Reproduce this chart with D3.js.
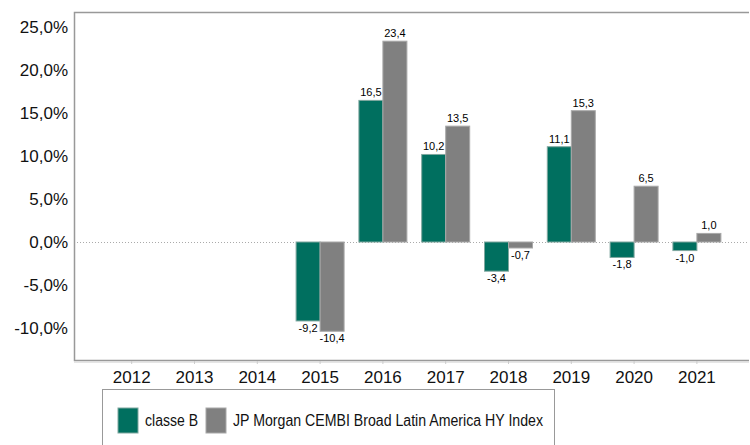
<!DOCTYPE html>
<html>
<head>
<meta charset="utf-8">
<script src="https://cdn.jsdelivr.net/npm/d3@7"></script>
<style>
  html, body { margin: 0; padding: 0; background: #fff; }
  svg { display: block; font-family: "Liberation Sans", Arial, sans-serif; }
</style>
</head>
<body>
<svg id="chart" width="750" height="445"></svg>
<script>
const years = ["2012","2013","2014","2015","2016","2017","2018","2019","2020","2021"];
const classeB = [null, null, null, -9.2, 16.5, 10.2, -3.4, 11.1, -1.8, -1.0];
const indexJP = [null, null, null, -10.4, 23.4, 13.5, -0.7, 15.3, 6.5, 1.0];
const seriesNames = ["classe B", "JP Morgan CEMBI Broad Latin America HY Index"];
const seriesColors = ["#006F5F", "#808080"];
const yTicks = [-10, -5, 0, 5, 10, 15, 20, 25];

const svg = d3.select("#chart");
const plot = { left: 74, right: 749, top: 12, bottom: 360 };

const y = d3.scaleLinear().domain([-13.75, 26.8]).range([plot.bottom, plot.top]);
const x = d3.scaleBand().domain(years).range([100.3, 728.3]).paddingInner(0).paddingOuter(0);
const sub = d3.scaleBand().domain([0, 1]).range([x.bandwidth() / 2 - 24, x.bandwidth() / 2 + 24]);

const fmt = v => d3.format(".1f")(v).replace(".", ",").replace("−", "-");

// zero line (dotted)
svg.append("line")
  .attr("x1", plot.left).attr("x2", plot.right)
  .attr("y1", Math.round(y(0)) + 0.5).attr("y2", Math.round(y(0)) + 0.5)
  .attr("stroke", "#aaa").attr("stroke-width", 1).attr("stroke-dasharray", "1,2");

// bars
const data = [classeB, indexJP];
data.forEach((vals, si) => {
  const g = svg.append("g");
  years.forEach((yr, i) => {
    const v = vals[i];
    if (v === null) return;
    const x0 = x(yr) + sub(si);
    const y0 = y(Math.max(0, v)), y1 = y(Math.min(0, v));
    g.append("rect")
      .attr("x", x0).attr("y", y0)
      .attr("width", sub.bandwidth()).attr("height", y1 - y0)
      .attr("fill", seriesColors[si])
      .attr("stroke", si === 0 ? "#7fa79f" : "#a8a8a8").attr("stroke-width", 1);
    const lx = x0 + sub.bandwidth() / 2;
    const ly = v >= 0 ? y(v) - 4 : y(v) + 11;
    g.append("text")
      .attr("x", lx).attr("y", ly)
      .attr("text-anchor", "middle")
      .attr("font-size", 11).attr("fill", "#000")
      .text(fmt(v));
  });
});

// frame
const frame = svg.append("g").attr("fill", "none");
frame.append("path")
  .attr("d", `M${plot.right},${plot.top + 0.5} H${plot.left + 0.5} V${plot.bottom + 0.5} H${plot.right}`)
  .attr("stroke", "#999").attr("stroke-width", 1.5);
frame.append("line")
  .attr("x1", plot.left).attr("x2", plot.right)
  .attr("y1", plot.bottom + 2).attr("y2", plot.bottom + 2)
  .attr("stroke", "#ddd").attr("stroke-width", 1.5);

// y axis
const yAxis = d3.axisLeft(y).tickValues(yTicks).tickSize(0).tickPadding(6)
  .tickFormat(d => fmt(d) + "%");
svg.append("g")
  .attr("transform", `translate(${plot.left},0)`)
  .call(yAxis)
  .call(g => g.select(".domain").remove())
  .call(g => g.selectAll("text").attr("font-size", 17).attr("fill", "#111")
    .attr("font-family", "Liberation Sans, Arial, sans-serif"));

// x axis
const xAxis = d3.axisBottom(x).tickSize(3).tickPadding(7);
svg.append("g")
  .attr("transform", `translate(0,${plot.bottom + 1})`)
  .call(xAxis)
  .call(g => g.select(".domain").remove())
  .call(g => g.selectAll(".tick line").attr("stroke", "#ccc"))
  .call(g => g.selectAll("text").attr("font-size", 17).attr("fill", "#111")
    .attr("font-family", "Liberation Sans, Arial, sans-serif"));

// legend
const lg = svg.append("g");
lg.append("rect")
  .attr("x", 102.5).attr("y", 389.5).attr("width", 452).attr("height", 70)
  .attr("fill", "#fff").attr("stroke", "#999").attr("stroke-width", 1);
const items = [
  { sx: 118, tx: 145, w: 53 },
  { sx: 206, tx: 233, w: 310 }
];
items.forEach((it, i) => {
  lg.append("rect")
    .attr("x", it.sx).attr("y", 408).attr("width", 20).attr("height", 25)
    .attr("fill", seriesColors[i])
    .attr("stroke", i === 0 ? "#7fa79f" : "#a8a8a8");
  lg.append("text")
    .attr("x", it.tx).attr("y", 426)
    .attr("font-size", 16).attr("fill", "#111")
    .attr("textLength", it.w).attr("lengthAdjust", "spacingAndGlyphs")
    .text(seriesNames[i]);
});
</script>
</body>
</html>
